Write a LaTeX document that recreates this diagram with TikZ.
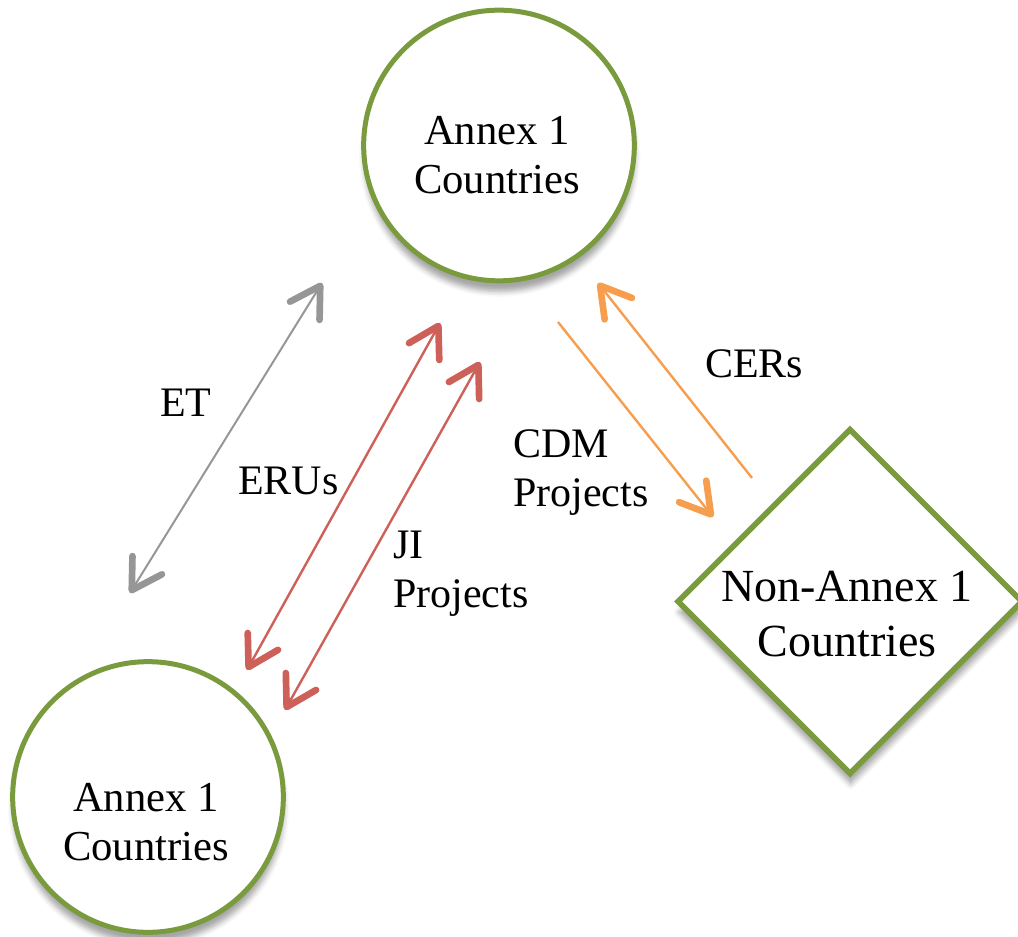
\documentclass[tikz,border=0pt]{standalone}
\usepackage{fontspec}
\setmainfont{Liberation Serif}
\usepackage{xcolor}
\usepackage{tikz}
\usetikzlibrary{shapes}
\usetikzlibrary{shapes.geometric}
\usetikzlibrary{arrows.meta}
\usetikzlibrary{shadows.blur}

\begin{document}
\begin{tikzpicture}[x=0.75pt,y=0.75pt,yscale=-1,xscale=1,
  barb/.tip={Straight Barb[length=22pt,width=26pt,line width=5pt 0,round]},
  country/.style={circle,draw={rgb, 255:red, 122; green, 154; blue, 62 },line width=3.75pt,fill=white,minimum size=203pt,inner sep=0pt,
    blur shadow={shadow xshift=0.5pt,shadow yshift=-8pt,shadow blur radius=4pt,shadow opacity=35}},
  nonannex/.style={diamond,draw={rgb, 255:red, 122; green, 154; blue, 62 },line width=4.2pt,fill=white,minimum width=259.5pt,minimum height=259.5pt,inner sep=0pt,
    blur shadow={shadow xshift=0.5pt,shadow yshift=-8pt,shadow blur radius=4pt,shadow opacity=35}},
  countrytext/.style={align=center,inner sep=0.75pt,font=\fontsize{32}{36.75}\selectfont},
  labeltext/.style={anchor=north west,align=left,inner sep=0.75pt,font=\fontsize{31.5}{37}\selectfont},
  etline/.style={draw={rgb, 255:red, 150; green, 150; blue, 150 },line width=1.5pt,barb-barb},
  jiline/.style={draw={rgb, 255:red, 206; green, 96; blue, 90 },line width=1.8pt,barb-barb},
  cdmline/.style={draw={rgb, 255:red, 247; green, 158; blue, 78 },line width=1.8pt,-barb}]
\useasboundingbox (0,0) rectangle (1018,937);

%Circle: Annex 1 (top)
\node (annexTop) [country] at (499,145.5) {};
%Circle: Annex 1 (bottom)
\node (annexBot) [country] at (148,797) {};
%Diamond: Non-Annex 1
\node (nonAnnex) [nonannex] at (850,601.5) {};

% Text Node
\node (annexTopTxt) [countrytext] at (497,155.5) {Annex 1\\Countries};
% Text Node
\node (annexBotTxt) [countrytext] at (146,822.5) {Annex 1\\Countries};
% Text Node
\node (nonAnnexTxt) [countrytext,font=\fontsize{34.5}{41.25}\selectfont] at (847,614) {Non-Annex 1\\Countries};

%Arrow ends
\coordinate (etA) at (130,593);
\coordinate (etB) at (322,283);
\coordinate (eruA) at (247,670);
\coordinate (eruB) at (440,323);
\coordinate (jiA) at (285,710);
\coordinate (jiB) at (480,362);
\coordinate (cdmA) at (558,322);
\coordinate (cdmB) at (713,517);
\coordinate (cerA) at (752,478);
\coordinate (cerB) at (598,283);

%Straight Lines
\draw [etline] (etA) -- (etB);
\draw [jiline] (eruA) -- (eruB);
\draw [jiline] (jiA) -- (jiB);
\draw [cdmline] (cdmA) -- (cdmB);
\draw [cdmline] (cerA) -- (cerB);

% Text Node
\node (etLbl) [labeltext] at (159,388) {ET};
% Text Node
\node (eruLbl) [labeltext] at (237,466) {ERUs};
% Text Node
\node (jiLbl) [labeltext] at (392,529.5) {JI\\Projects};
% Text Node
\node (cdmLbl) [labeltext] at (512,428) {CDM\\Projects};
% Text Node
\node (cerLbl) [labeltext] at (704,348) {CERs};

\end{tikzpicture}
\end{document}
